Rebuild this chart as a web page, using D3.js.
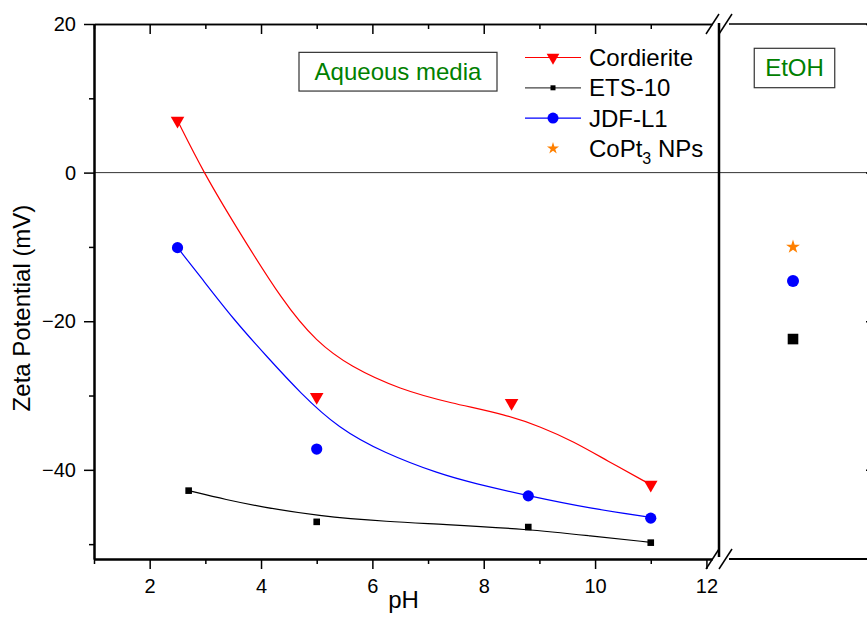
<!DOCTYPE html>
<html>
<head>
<meta charset="utf-8">
<script src="https://cdn.jsdelivr.net/npm/d3@7"></script>
<style>
  body { margin: 0; background: #fff; }
  svg text { font-family: "Liberation Sans", Arial, sans-serif; }
</style>
</head>
<body>
<div id="chart"></div>
<script>
// measured points, aqueous media
const cordPH = [2.5, 5, 8.5, 11];
const cordZeta = [7, -30.2, -31, -42];
const etsPH = [2.7, 5, 8.8, 11];
const etsZeta = [-42.8, -47, -47.7, -49.8];
const jdfPH = [2.5, 5, 8.8, 11];
const jdfZeta = [-10.1, -37.2, -43.5, -46.5];

// fitted curves
const cordFitPH = [2.5, 2.97, 3.51, 4.41, 5.0, 5.6, 6.5, 7.4, 8.42, 9.02, 9.62, 10.2, 11];
const cordFitZeta = [7, 0, -6.8, -17.6, -22.8, -26.1, -29.2, -31.0, -32.6, -34.2, -36.2, -38.7, -42];
const jdfFitPH = [2.5, 2.91, 3.51, 4.11, 4.71, 5.39, 6.2, 7.22, 7.82, 8.8, 9.92, 11];
const jdfFitZeta = [-10.1, -14.0, -19.8, -24.8, -29.7, -34.4, -37.7, -40.6, -41.8, -43.5, -45.2, -46.4];
const etsFitPH = [2.7, 3.39, 3.99, 5.0, 6.32, 7.22, 8.8, 9.92, 11];
const etsFitZeta = [-42.8, -44.05, -44.95, -46.2, -47.0, -47.3, -48.0, -48.9, -49.75];

// ethanol panel
const etohSeries = ['CoPt3 NPs', 'JDF-L1', 'ETS-10'];
const etohZeta = [-10, -14.6, -22.4];

// ticks and labels
const phMajor = [2, 4, 6, 8, 10, 12];
const phMinor = [1, 3, 5, 7, 9, 11];
const zetaMajor = [20, 0, -20, -40];
const zetaMinor = [10, -10, -30, -50];
const legendNames = ['Cordierite', 'ETS-10', 'JDF-L1', 'CoPt3 NPs'];

const WIDTH = 867, HEIGHT = 621;
const P1 = { left: 94, right: 712 };
const P2 = { left: 719, right: 867, axis: 876 };
const TOP = 24, BOTTOM = 559;

const RED = '#ff0000', BLUE = '#0000ff', BLACK = '#000', ORANGE = '#ff8000', GREEN = '#008000';

const svg = d3.select('#chart').append('svg')
    .attr('width', WIDTH)
    .attr('height', HEIGHT);

const x = d3.scaleLinear().domain([1, 12.1]).range([P1.left, P1.right]);
const x2 = d3.scalePoint().domain(['EtOH']).range([P2.left, P2.right]).padding(0.5);
const y = d3.scaleLinear().domain([-52, 20]).range([BOTTOM, TOP]);

// zero line through both panels
svg.append('line')
    .attr('x1', P1.left).attr('x2', WIDTH)
    .attr('y1', y(0)).attr('y2', y(0))
    .attr('stroke', '#333').attr('stroke-width', 1);

function styleAxis(g, width) {
    g.selectAll('path.domain').attr('stroke', '#000').attr('stroke-width', width);
    g.selectAll('.tick line').attr('stroke', '#000').attr('stroke-width', 1.5);
    g.selectAll('.tick text')
        .attr('fill', '#000')
        .style('font-size', '20px')
        .style('font-family', '"Liberation Sans", Arial, sans-serif');
}

// bottom axis, panel 1
svg.append('g')
    .attr('transform', `translate(0, ${BOTTOM})`)
    .call(d3.axisBottom(x).tickValues(phMinor).tickSize(5).tickSizeOuter(0).tickFormat(''))
    .call(g => styleAxis(g, 2));
svg.append('g')
    .attr('transform', `translate(0, ${BOTTOM})`)
    .call(d3.axisBottom(x).tickValues(phMajor).tickSize(10).tickSizeOuter(0).tickPadding(10))
    .call(g => styleAxis(g, 2));

// top axis, panel 1 (ticks inside)
svg.append('g')
    .attr('transform', `translate(0, ${TOP})`)
    .call(d3.axisBottom(x).tickValues(phMinor).tickSize(5).tickSizeOuter(0).tickFormat(''))
    .call(g => styleAxis(g, 1.5));
svg.append('g')
    .attr('transform', `translate(0, ${TOP})`)
    .call(d3.axisBottom(x).tickValues(phMajor.filter(d => d < 12)).tickSize(10).tickSizeOuter(0).tickFormat(''))
    .call(g => styleAxis(g, 1.5));

// left axis
svg.append('g')
    .attr('transform', `translate(${P1.left}, 0)`)
    .call(d3.axisLeft(y).tickValues(zetaMinor).tickSize(5).tickSizeOuter(0).tickFormat(''))
    .call(g => styleAxis(g, 2));
svg.append('g')
    .attr('transform', `translate(${P1.left}, 0)`)
    .call(d3.axisLeft(y).tickValues(zetaMajor).tickSize(10).tickSizeOuter(0).tickPadding(8))
    .call(g => styleAxis(g, 2));

// panel 2 frame: top / bottom lines, break line and right axis
[TOP, BOTTOM].forEach(yy => {
    svg.append('line')
        .attr('x1', P2.left + 10).attr('x2', WIDTH)
        .attr('y1', yy).attr('y2', yy)
        .attr('stroke', '#000').attr('stroke-width', yy === TOP ? 1.5 : 2);
});
svg.append('line')
    .attr('x1', P2.left).attr('x2', P2.left)
    .attr('y1', TOP - 1).attr('y2', BOTTOM - 2)
    .attr('stroke', '#000').attr('stroke-width', 2.5);
svg.append('g')
    .attr('transform', `translate(${P2.axis}, 0)`)
    .call(d3.axisRight(y).tickValues(zetaMajor).tickSize(-10).tickSizeOuter(0).tickFormat(''))
    .call(g => styleAxis(g, 2));

// break marks
[TOP, BOTTOM].forEach(yy => {
    [712.5, 725.5].forEach(cx => {
        svg.append('line')
            .attr('x1', cx - 6.5).attr('y1', yy + 10)
            .attr('x2', cx + 6.5).attr('y2', yy - 10)
            .attr('stroke', '#000').attr('stroke-width', 1.5);
    });
});

// fitted lines
const line = d3.line()
    .x(d => x(d[0]))
    .y(d => y(d[1]))
    .curve(d3.curveBasis);

const fits = [
    { ph: cordFitPH, z: cordFitZeta, color: RED },
    { ph: jdfFitPH, z: jdfFitZeta, color: BLUE },
    { ph: etsFitPH, z: etsFitZeta, color: BLACK }
];
svg.selectAll('path.fit')
    .data(fits)
    .join('path')
        .attr('class', 'fit')
        .attr('d', d => line(d3.zip(d.ph, d.z)))
        .attr('fill', 'none')
        .attr('stroke', d => d.color)
        .attr('stroke-width', 1.2);

// markers
const triangle = d3.symbol().type(d3.symbolTriangle);
function drawTri(sel, size) {
    sel.attr('d', triangle.size(size)()).attr('fill', RED);
}

svg.selectAll('path.cord')
    .data(d3.zip(cordPH, cordZeta))
    .join('path')
        .attr('class', 'cord')
        .attr('transform', d => `translate(${x(d[0])}, ${y(d[1])}) rotate(180)`)
        .call(drawTri, 80);

svg.selectAll('rect.ets')
    .data(d3.zip(etsPH, etsZeta))
    .join('rect')
        .attr('class', 'ets')
        .attr('x', d => x(d[0]) - 3.3)
        .attr('y', d => y(d[1]) - 3.3)
        .attr('width', 6.6).attr('height', 6.6)
        .attr('fill', BLACK);

svg.selectAll('circle.jdf')
    .data(d3.zip(jdfPH, jdfZeta))
    .join('circle')
        .attr('class', 'jdf')
        .attr('cx', d => x(d[0]))
        .attr('cy', d => y(d[1]))
        .attr('r', 5.6)
        .attr('fill', BLUE);

// EtOH points
const star = d3.symbol().type(d3.symbolStar);
const etoh = svg.selectAll('g.etoh')
    .data(d3.zip(etohSeries, etohZeta))
    .join('g')
        .attr('class', 'etoh')
        .attr('transform', d => `translate(${x2('EtOH')}, ${y(d[1])})`);
etoh.filter(d => d[0] === 'CoPt3 NPs').append('path')
    .attr('d', star.size(60)())
    .attr('fill', ORANGE);
etoh.filter(d => d[0] === 'JDF-L1').append('circle')
    .attr('r', 6)
    .attr('fill', BLUE);
etoh.filter(d => d[0] === 'ETS-10').append('rect')
    .attr('x', -5.3).attr('y', -5.3)
    .attr('width', 10.6).attr('height', 10.6)
    .attr('fill', BLACK);

// labelled boxes
function labelBox(cx, cy, w, h, label) {
    const g = svg.append('g').attr('transform', `translate(${cx}, ${cy})`);
    g.append('rect')
        .attr('x', -w / 2).attr('y', -h / 2)
        .attr('width', w).attr('height', h)
        .attr('fill', '#fff')
        .attr('stroke', '#333').attr('stroke-width', 1.2);
    g.append('text')
        .attr('text-anchor', 'middle')
        .attr('dy', '0.35em')
        .attr('fill', GREEN)
        .style('font-size', '24px')
        .text(label);
}
labelBox(398, 71.7, 198, 38.7, 'Aqueous media');
labelBox(794.5, 68, 80.5, 39.4, 'EtOH');

// legend
const legend = svg.append('g').attr('class', 'legend');
const legendRows = legend.selectAll('g.row')
    .data(legendNames)
    .join('g')
        .attr('class', 'row')
        .attr('transform', (d, i) => `translate(525, ${57.5 + i * 30.3})`);
legendRows.filter((d, i) => i < 3).append('line')
    .attr('x1', 0).attr('x2', 56)
    .attr('stroke', (d, i) => [RED, '#444', BLUE][i])
    .attr('stroke-width', 1.2);
legendRows.filter(d => d === 'Cordierite').append('path')
    .attr('transform', 'translate(28, 0) rotate(180)')
    .call(drawTri, 70);
legendRows.filter(d => d === 'ETS-10').append('rect')
    .attr('x', 25.5).attr('y', -2.5).attr('width', 5).attr('height', 5)
    .attr('fill', BLACK);
legendRows.filter(d => d === 'JDF-L1').append('circle')
    .attr('cx', 28).attr('r', 5.5)
    .attr('fill', BLUE);
legendRows.filter(d => d === 'CoPt3 NPs').append('path')
    .attr('transform', 'translate(28, 0)')
    .attr('d', star.size(45)())
    .attr('fill', ORANGE);
const legendText = legendRows.append('text')
    .attr('x', 64)
    .attr('dy', '0.35em')
    .attr('fill', '#000')
    .style('font-size', '24px');
legendText.filter(d => d !== 'CoPt3 NPs').text(d => d);
legendText.filter(d => d === 'CoPt3 NPs').each(function () {
    const t = d3.select(this);
    t.append('tspan').text('CoPt');
    t.append('tspan').text('3').attr('dy', 7).style('font-size', '16px');
    t.append('tspan').text(' NPs').attr('dy', -7);
});

// axis titles
svg.append('text')
    .attr('transform', 'translate(30, 308) rotate(-90)')
    .attr('text-anchor', 'middle')
    .attr('fill', '#000')
    .style('font-size', '24px')
    .text('Zeta Potential (mV)');
svg.append('text')
    .attr('x', 403.5).attr('y', 608)
    .attr('text-anchor', 'middle')
    .attr('fill', '#000')
    .style('font-size', '24px')
    .text('pH');
</script>
</body>
</html>
